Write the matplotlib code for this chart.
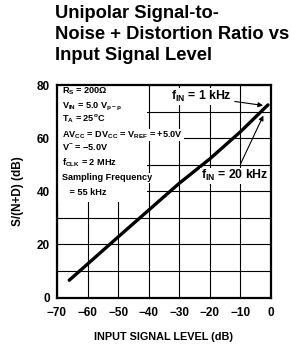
import numpy as np
import matplotlib.pyplot as plt
from matplotlib.patches import Rectangle

# values
input_level = [-66, -60, -50, -40, -30, -20, -10, -1]
snd_ratio = [6.5, 12.6, 22.8, 32.9, 43.0, 52.2, 62.4, 72.5]
x_ticks = [-70, -60, -50, -40, -30, -20, -10, 0]
x_tick_labels = ["\u221270", "\u221260", "\u221250", "\u221240", "\u221230", "\u221220", "\u221210", "0"]
y_ticks = [0, 20, 40, 60, 80]
title_lines = ["Unipolar Signal-to-", "Noise + Distortion Ratio vs", "Input Signal Level"]
conditions = [
    r"R$_\mathrm{S}$ = 200$\Omega$",
    r"V$_\mathrm{IN}$ = 5.0 V$_\mathrm{p-p}$",
    r"T$_\mathrm{A}$ = 25$^\mathrm{o}$C",
    r"AV$_\mathrm{CC}$ = DV$_\mathrm{CC}$ = V$_\mathrm{REF}$ = +5.0V",
    r"V$^\mathrm{-}$ = $-$5.0V",
    r"f$_\mathrm{CLK}$ = 2 MHz",
    "Sampling Frequency",
    "   = 55 kHz",
]

plt.rcParams["font.family"] = ["Liberation Sans", "DejaVu Sans"]
plt.rcParams["font.weight"] = "bold"
plt.rcParams["axes.labelweight"] = "bold"
plt.rcParams["mathtext.fontset"] = "custom"
plt.rcParams["mathtext.rm"] = "Liberation Sans:bold"
plt.rcParams["mathtext.it"] = "Liberation Sans:bold"
plt.rcParams["mathtext.bf"] = "Liberation Sans:bold"
plt.rcParams["mathtext.default"] = "rm"

W, H = 291, 347
fig = plt.figure(figsize=(W / 100, H / 100), dpi=100)
ax = fig.add_axes([57 / W, (H - 297.5) / H, 214 / W, 212.5 / H])

ax.set_xlim(-70, 0)
ax.set_ylim(0, 80)
ax.set_xticks(x_ticks)
ax.set_xticklabels(x_tick_labels)
ax.set_yticks(y_ticks)
ax.set_yticks([10, 30, 50, 70], minor=True)
ax.tick_params(which="both", length=0)
ax.tick_params(axis="x", pad=7, labelsize=8.5)
ax.tick_params(axis="y", pad=5, labelsize=8.5)
ax.set_axisbelow(True)
ax.grid(True, which="both", color="black", lw=0.8)
for s in ax.spines.values():
    s.set_linewidth(1.6)

ax.plot(input_level, snd_ratio, color="black", lw=2.4, solid_capstyle="round", zorder=3)

# white area behind the test conditions
ax.add_patch(Rectangle((-70, 36), 29.5, 44, facecolor="white", edgecolor="none", zorder=1))
cond_y = [91.7, 106.7, 119, 135, 148, 163, 178, 193]
for txt, py in zip(conditions, cond_y):
    ax.text(-68.4, (297.5 - py) / 2.656, txt, fontsize=6.6,
            ha="left", va="center", zorder=2,
            bbox=dict(facecolor="white", edgecolor="none", pad=0.5))

ax.annotate(r"f$_\mathrm{IN}$ = 1 kHz", xy=(-2.6, 72.3), xytext=(-13, 75.6),
            fontsize=8.8, ha="right", va="center", zorder=4,
            bbox=dict(facecolor="white", edgecolor="none", pad=0.5),
            arrowprops=dict(arrowstyle="-|>", color="black", lw=0.8,
                            mutation_scale=7, shrinkA=2, shrinkB=0))
ax.annotate(r"f$_\mathrm{IN}$ = 20 kHz", xy=(-2.5, 68.5), xytext=(-11.8, 45.8),
            fontsize=8.8, ha="center", va="center", zorder=4,
            bbox=dict(facecolor="white", edgecolor="none", pad=0.5),
            arrowprops=dict(arrowstyle="-|>", color="black", lw=0.8,
                            mutation_scale=7, shrinkA=3, shrinkB=0))

ax.set_xlabel("INPUT SIGNAL LEVEL (dB)", fontsize=7.8, labelpad=9)
ax.set_ylabel("S/(N+D) (dB)", fontsize=8.5, labelpad=9)

for line, py in zip(title_lines, [14, 34.5, 55]):
    fig.text(55 / W, 1 - py / H, line, fontsize=13.2, fontweight="bold",
             ha="left", va="center")

fig.savefig("out.png", dpi=100)
